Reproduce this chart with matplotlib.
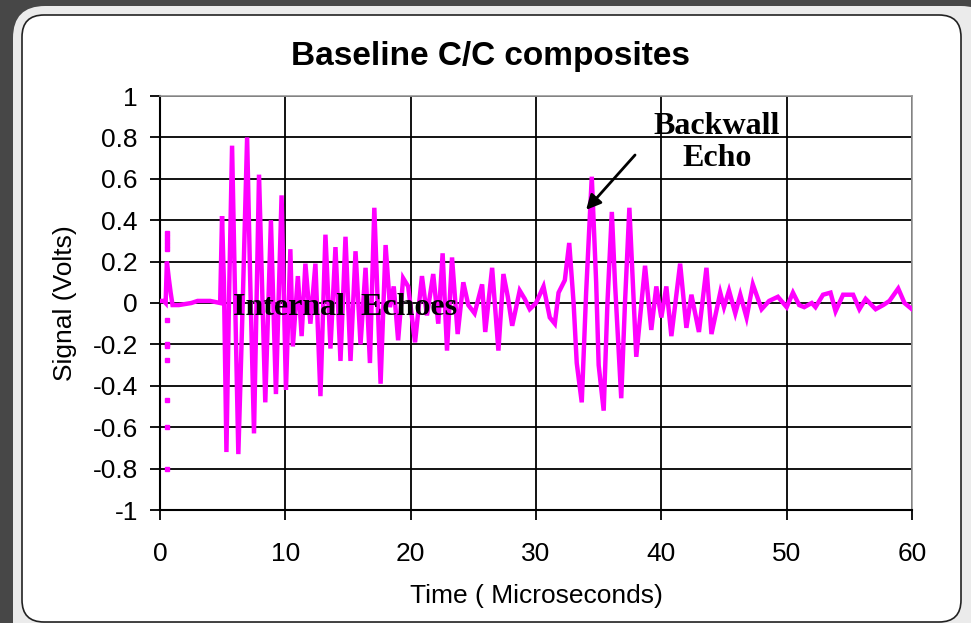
import matplotlib
matplotlib.use('Agg')
import matplotlib.pyplot as plt
import matplotlib.transforms as mtransforms
from matplotlib.patches import FancyBboxPatch

# Ultrasonic A-scan (time in microseconds, signal in volts)
time_us = [0.0, 0.3, 0.45, 0.55, 0.7, 0.85, 1.0, 1.5, 2.5, 3.0, 4.0, 4.8,
           4.95, 5.1, 5.3, 5.5, 5.75, 6.0, 6.25, 6.6, 6.95, 7.2, 7.5, 7.9,
           8.4, 8.85, 9.25, 9.7, 10.05, 10.4, 10.6, 11.0, 11.3, 11.6, 12.0, 12.4,
           12.8, 13.2, 13.6, 14.0, 14.4, 14.8, 15.2, 15.6, 16.0, 16.4, 16.75, 17.1,
           17.6, 18.0, 18.35, 18.65, 19.0, 19.4, 19.8, 20.35, 20.9, 21.3, 21.8, 22.2,
           22.55, 22.9, 23.3, 23.75, 24.2, 24.6, 25.1, 25.7, 25.95, 26.5, 27.0, 27.4,
           27.75, 28.1, 28.7, 29.1, 29.5, 30.0, 30.6, 31.1, 31.5, 31.8, 32.3, 32.65,
           33.0, 33.25, 33.65, 34.0, 34.2, 34.45, 34.8, 35.0, 35.4, 35.7, 36.05, 36.3,
           36.8, 37.1, 37.45, 38.0, 38.7, 39.2, 39.6, 40.0, 40.4, 40.8, 41.5, 42.0,
           42.4, 43.0, 43.6, 44.0, 44.7, 45.0, 45.4, 45.9, 46.3, 46.8, 47.3, 48.0,
           48.6, 49.3, 50.0, 50.5, 51.0, 51.4, 52.0, 52.3, 52.9, 53.5, 53.9, 54.5,
           55.3, 55.8, 56.3, 57.1, 57.7, 58.2, 58.9, 59.4, 60.0]
signal_v = [0.01, 0.01, 0.0, 0.2, 0.12, 0.05, -0.01, -0.01, 0.0, 0.01, 0.01, 0.0,
            0.42, 0.1, -0.72, 0.0, 0.76, 0.0, -0.73, 0.0, 0.80, 0.1, -0.63, 0.62,
            -0.48, 0.40, -0.44, 0.52, -0.42, 0.26, -0.21, 0.13, -0.16, 0.19, -0.10, 0.19,
            -0.45, 0.33, -0.22, 0.27, -0.28, 0.32, -0.28, 0.25, -0.20, 0.17, -0.29, 0.46,
            -0.39, 0.28, -0.02, 0.08, -0.18, 0.12, 0.08, -0.19, 0.13, -0.06, 0.14, -0.10,
            0.24, -0.23, 0.22, -0.15, 0.10, -0.01, -0.05, 0.09, -0.14, 0.17, -0.23, 0.14,
            0.03, -0.11, 0.06, 0.02, -0.03, 0.0, 0.08, -0.07, -0.10, 0.05, 0.11, 0.29,
            0.0, -0.29, -0.48, 0.05, 0.3, 0.61, 0.1, -0.30, -0.52, 0.0, 0.44, 0.1,
            -0.46, 0.0, 0.46, -0.26, 0.18, -0.13, 0.08, -0.07, 0.08, -0.16, 0.19, -0.12,
            0.04, -0.14, 0.17, -0.15, 0.05, -0.02, 0.06, -0.05, 0.04, -0.07, 0.09, -0.03,
            0.01, 0.03, -0.02, 0.05, -0.01, -0.02, 0.0, -0.02, 0.04, 0.05, -0.04, 0.04,
            0.04, -0.03, 0.02, -0.03, -0.01, 0.01, 0.07, 0.0, -0.03]

# isolated samples of the first (surface) spike, drawn as dots
spike_t = [0.55] * 12
spike_v = [0.34, 0.32, 0.30, 0.28, 0.26, -0.08, -0.20, -0.21, -0.275, -0.47, -0.60, -0.80]

x_ticks = [0, 10, 20, 30, 40, 50, 60]
y_ticks = [-1, -0.8, -0.6, -0.4, -0.2, 0, 0.2, 0.4, 0.6, 0.8, 1]
y_tick_labels = ['-1', '-0.8', '-0.6', '-0.4', '-0.2', '0', '0.2', '0.4', '0.6', '0.8', '1']

plt.rcParams['font.family'] = ['Liberation Sans', 'DejaVu Sans']

fig = plt.figure(figsize=(9.71, 6.23), dpi=100)
fig.patch.set_facecolor('#474747')

# slide panel behind the chart (pixel coordinates)
px = mtransforms.IdentityTransform()
outer = FancyBboxPatch((13, -40), 980, 657, boxstyle='round,pad=0,rounding_size=32',
                       facecolor='#ebebeb', edgecolor='none', transform=px, zorder=-3)
inner = FancyBboxPatch((22, 1), 939, 607, boxstyle='round,pad=0,rounding_size=22',
                       facecolor='white', edgecolor='#222222', linewidth=1.2,
                       transform=px, zorder=-2)
fig.add_artist(outer)
fig.add_artist(inner)

ax = fig.add_axes([160 / 971, 1 - 510 / 623, 752 / 971, 414 / 623])
ax.set_facecolor('white')

ax.plot(time_us, signal_v, color='#FF00FF', linewidth=3.2, solid_joinstyle='miter',
        zorder=3)
ax.plot(spike_t, spike_v, linestyle='none', marker='s', markersize=3,
        color='#FF00FF', zorder=3)

ax.set_xlim(0, 60)
ax.set_ylim(-1, 1)
ax.set_xticks(x_ticks)
ax.set_yticks(y_ticks)
ax.set_yticklabels(y_tick_labels)
ax.grid(True, color='black', linewidth=1.3, zorder=1)
ax.set_axisbelow(True)

for side in ['left', 'bottom']:
    ax.spines[side].set_color('black')
    ax.spines[side].set_linewidth(1.5)
for side in ['top', 'right']:
    ax.spines[side].set_color('#999999')
    ax.spines[side].set_linewidth(1.2)

ax.tick_params(axis='both', direction='out', length=7, width=1.3, labelsize=19)
ax.tick_params(axis='x', pad=16)
ax.tick_params(axis='y', pad=9)

ax.set_title('Baseline C/C composites', fontsize=24, fontweight='bold', pad=22, x=0.44)
ax.set_xlabel('Time ( Microseconds)', fontsize=19, labelpad=13)
ax.set_ylabel('Signal (Volts)', fontsize=19, labelpad=11)

ax.text(5.8, -0.02, 'Internal  Echoes', family=['Liberation Serif', 'DejaVu Serif'],
        fontsize=23, fontweight='bold', ha='left', va='center', zorder=4)
ax.text(44.45, 0.775, 'Backwall\nEcho', family=['Liberation Serif', 'DejaVu Serif'],
        fontsize=23, fontweight='bold', ha='center', va='center',
        multialignment='center', linespacing=1.15, zorder=4)
ax.annotate('', xy=(33.85, 0.44), xytext=(38.05, 0.725),
            arrowprops=dict(arrowstyle='-|>', color='black', lw=2, mutation_scale=22),
            zorder=4)

fig.savefig('out.png', dpi=100, facecolor=fig.get_facecolor())
